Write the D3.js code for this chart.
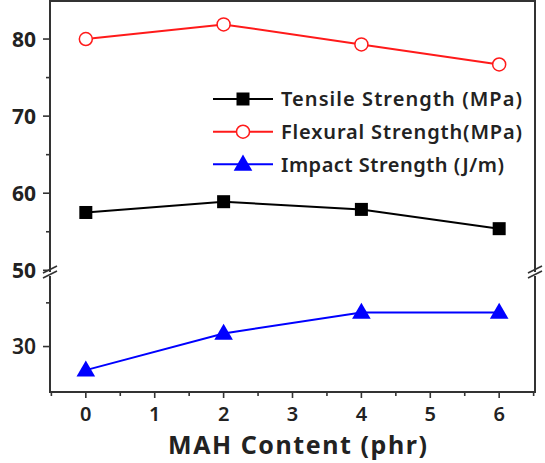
<!DOCTYPE html>
<html><head><meta charset="utf-8">
<script src="https://cdn.jsdelivr.net/npm/d3@7"></script>
<style>body{margin:0;background:#fff}svg{display:block}</style>
</head><body>
<script>
// data
const mahContent = [0, 2, 4, 6];
const tensile = [57.5, 58.9, 57.9, 55.4];
const flexural = [80.0, 81.9, 79.3, 76.7];
const impact = [27.3, 31.5, 33.9, 33.9];
const seriesNames = ["Tensile Strength (MPa)", "Flexural Strength(MPa)", "Impact Strength (J/m)"];
const xTicks = [0, 1, 2, 3, 4, 5, 6];
const upperTicks = [50, 60, 70, 80];
const lowerTicks = [30];

const W = 545, H = 463;
const L = 50, R = 535, T = 0.5, B = 392;
const svg = d3.select("body").append("svg").attr("width", W).attr("height", H);
svg.append("rect").attr("width", W).attr("height", H).attr("fill", "#fff");

const x = d3.scaleLinear().domain([-0.52, 6.52]).range([L, R]);
const yUp = d3.scaleLinear().domain([50, 85]).range([270.3, T]);
const yLo = d3.scaleLinear().domain([24.8, 37.9]).range([B, 277.5]);

const axisColor = "#333";
const fontF = "'Noto Sans', 'DejaVu Sans', sans-serif";

// frame
const g = svg.append("g");
g.append("line").attr("x1", L).attr("x2", R).attr("y1", 1).attr("y2", 1).attr("stroke", axisColor).attr("stroke-width", 2);
[L, R].forEach(px => {
  g.append("line").attr("x1", px).attr("x2", px).attr("y1", 0).attr("y2", 272).attr("stroke", axisColor).attr("stroke-width", 2);
  g.append("line").attr("x1", px).attr("x2", px).attr("y1", 276).attr("y2", B).attr("stroke", axisColor).attr("stroke-width", 2);
  [0, 5].forEach(off => {
    g.append("line").attr("x1", px - 7).attr("y1", 273 + off).attr("x2", px + 7).attr("y2", 266 + off)
      .attr("stroke", axisColor).attr("stroke-width", 1.6);
  });
});
g.append("line").attr("x1", L - 1).attr("x2", R + 1).attr("y1", B).attr("y2", B).attr("stroke", axisColor).attr("stroke-width", 2);

// x ticks
const xMinor = d3.range(-0.5, 6.51, 0.5).filter(v => !Number.isInteger(v));
xTicks.forEach(v => {
  g.append("line").attr("x1", x(v)).attr("x2", x(v)).attr("y1", B).attr("y2", B + 6).attr("stroke", axisColor).attr("stroke-width", 1.6);
  g.append("text").attr("x", x(v)).attr("y", 421).attr("text-anchor", "middle")
    .attr("font-family", fontF).attr("font-size", 20).attr("font-weight", 600).attr("fill", "#222").text(v);
});
xMinor.forEach(v => {
  g.append("line").attr("x1", x(v)).attr("x2", x(v)).attr("y1", B).attr("y2", B + 4).attr("stroke", axisColor).attr("stroke-width", 1.6);
});

// y ticks
function yTick(scale, v, major) {
  g.append("line").attr("x1", L - (major ? 7 : 4)).attr("x2", L).attr("y1", scale(v)).attr("y2", scale(v))
    .attr("stroke", axisColor).attr("stroke-width", 1.6);
}
upperTicks.forEach(v => {
  yTick(yUp, v, true);
  g.append("text").attr("x", 36).attr("y", yUp(v)).attr("dy", "0.36em").attr("text-anchor", "end")
    .attr("font-family", fontF).attr("font-size", 21).attr("font-weight", 700).attr("fill", "#222").text(v);
});
[55, 65, 75].forEach(v => yTick(yUp, v, false));
lowerTicks.forEach(v => {
  yTick(yLo, v, true);
  g.append("text").attr("x", 36).attr("y", yLo(v)).attr("dy", "0.36em").attr("text-anchor", "end")
    .attr("font-family", fontF).attr("font-size", 21).attr("font-weight", 600).attr("fill", "#222").text(v);
});
[35].forEach(v => yTick(yLo, v, false));

// x title
svg.append("text").attr("x", 297.5).attr("y", 454).attr("text-anchor", "middle")
  .attr("font-family", fontF).attr("font-size", 25).attr("font-weight", 700).attr("fill", "#222")
  .attr("textLength", 259).attr("lengthAdjust", "spacing")
  .text("MAH Content (phr)");

// series
const line = (ys) => d3.line().x(d => x(d.x)).y(d => ys(d.y));
function pts(arr) { return mahContent.map((c, i) => ({x: c, y: arr[i]})); }

const series = [
  {data: pts(tensile), scale: yUp, color: "#000", marker: "square"},
  {data: pts(flexural), scale: yUp, color: "#ff1a1a", marker: "circle"},
  {data: pts(impact), scale: yLo, color: "#0000ff", marker: "triangle"}
];

function drawMarker(sel, type, color, cx, cy) {
  if (type === "square") {
    sel.append("rect").attr("x", cx - 6.5).attr("y", cy - 6.5).attr("width", 13).attr("height", 13).attr("fill", "#000");
  } else if (type === "circle") {
    sel.append("circle").attr("cx", cx).attr("cy", cy).attr("r", 6.5).attr("fill", "#fff").attr("stroke", color).attr("stroke-width", 1.5);
  } else {
    sel.append("path").attr("d", d3.symbol().type(d3.symbolTriangle).size(150)()).attr("transform", `translate(${cx},${cy + 1})`).attr("fill", color);
  }
}

series.forEach(s => {
  svg.append("path").datum(s.data).attr("d", line(s.scale)).attr("fill", "none").attr("stroke", s.color).attr("stroke-width", 2);
  s.data.forEach(d => drawMarker(svg, s.marker, s.color, x(d.x), s.scale(d.y)));
});

// legend
const legY = [99, 131.7, 164.3];
const legLen = [241, 241, 223];
series.forEach((s, i) => {
  const y = legY[i];
  svg.append("line").attr("x1", 213).attr("x2", 273).attr("y1", y).attr("y2", y).attr("stroke", s.color).attr("stroke-width", 2);
  drawMarker(svg, s.marker, s.color, 243, y);
  svg.append("text").attr("x", 281).attr("y", y).attr("dy", "0.36em")
    .attr("font-family", fontF).attr("font-size", 20).attr("font-weight", 600).attr("fill", "#222")
    .attr("textLength", legLen[i]).attr("lengthAdjust", "spacing").text(seriesNames[i]);
});
</script>
</body></html>
